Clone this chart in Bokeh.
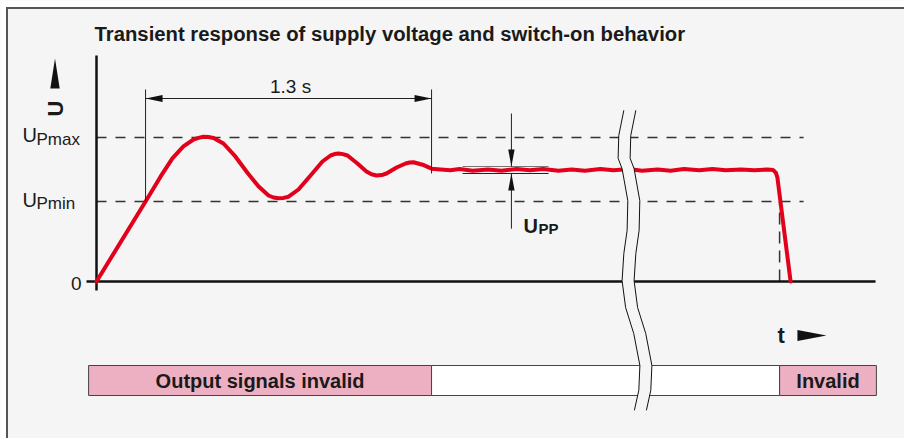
import math
from bokeh.plotting import figure
from bokeh.models import Range1d
from bokeh.core.properties import value
from bokeh.embed import file_html
from bokeh.resources import INLINE

# ---------------- data (time in s, voltage in arbitrary units) ----------------
UPMIN = 10.0
UPMAX = 18.0
T_VALID = 0.223          # supply crosses UPmin
SETTLE = 1.3             # settling time
T_OFF = 3.105            # supply falls below UPmin

curve_t = [0.000, 0.223, 0.291, 0.345, 0.395, 0.441, 0.464, 0.486, 0.509, 0.532,
           0.577, 0.632, 0.686, 0.736, 0.782, 0.805, 0.827, 0.850, 0.873, 0.918,
           0.973, 1.027, 1.064, 1.082, 1.100, 1.120, 1.141, 1.186, 1.227, 1.250, 1.273,
           1.296, 1.318, 1.364, 1.405, 1.423, 1.441, 1.482, 1.523, 1.564, 1.609,
           1.65, 1.71, 1.78, 1.84, 1.91, 1.97, 2.03, 2.10, 2.16, 2.22, 2.29, 2.35,
           2.42, 2.48, 2.55, 2.61, 2.67, 2.74, 2.80, 2.86, 2.93, 2.99, 3.05,
           3.075, 3.088, 3.095, 3.155]
curve_u = [0.0, 10.0, 13.1, 15.4, 16.9, 17.75, 17.95, 18.1, 18.05, 17.95,
           17.25, 15.6, 13.6, 11.9, 10.75, 10.5, 10.4, 10.45, 10.6, 11.5,
           13.25, 15.0, 15.75, 15.93, 16.0, 15.92, 15.75, 14.75, 13.75, 13.4, 13.25,
           13.3, 13.5, 14.25, 14.75, 14.88, 14.9, 14.6, 14.1, 14.0, 13.9,
           14.05, 13.85, 14.0, 13.85, 14.05, 13.9, 14.05, 13.85, 14.0, 13.85, 14.05, 13.9,
           14.05, 13.85, 14.0, 13.85, 14.05, 13.9, 14.05, 13.9, 14.0, 13.9, 14.0,
           13.95, 13.6, 13.0, 0.0]

upp_hi = 14.375
upp_lo = 13.5

bar_left = [-0.036, 1.523, 3.105]
bar_right = [1.523, 3.105, 3.545]
bar_labels = ["Output signals invalid", "", "Invalid"]
bar_colors = ["#edb0c2", "#ffffff", "#edb0c2"]

# break symbol (left edge), right edge is parallel
break_t = [2.397, 2.374, 2.371, 2.389, 2.415, 2.412, 2.397, 2.389, 2.405, 2.442, 2.470, 2.465, 2.445]
break_u = [21.4, 18.25, 15.4, 14.1, 10.1, 6.4, 3.5, 0.1, -3.25, -6.5, -10.5, -13.6, -16.1]

# ---------------- scales ----------------
PX_S = 220.0   # pixels per second
PX_U = 8.0     # pixels per unit
W, H = 904, 438
X0 = -96 / PX_S
X1 = X0 + W / PX_S
Y1 = 281 / PX_U
Y0 = Y1 - H / PX_U

BG = "#f5f5f5"
RED = "#e2001a"
INK = "#1a1a1a"
FONT = value("Liberation Sans")

p = figure(width=W, height=H, x_range=Range1d(X0, X1), y_range=Range1d(Y0, Y1),
           output_backend="svg", toolbar_location=None, min_border=0,
           background_fill_color=BG, border_fill_color=BG, outline_line_color=None)
p.xaxis.visible = False
p.yaxis.visible = False
p.xgrid.visible = False
p.ygrid.visible = False


def dx(px):
    return px / PX_S


def dy(px):
    return px / PX_U


def head(tx, ty, direction, length, half):
    if direction == "left":
        return [tx, tx + dx(length), tx + dx(length)], [ty, ty + dy(half), ty - dy(half)]
    if direction == "right":
        return [tx, tx - dx(length), tx - dx(length)], [ty, ty + dy(half), ty - dy(half)]
    if direction == "up":
        return [tx, tx - dx(half), tx + dx(half)], [ty, ty - dy(length), ty - dy(length)]
    return [tx, tx - dx(half), tx + dx(half)], [ty, ty + dy(length), ty + dy(length)]


def label(x, y, txt, size, bold=False, align="left", angle=0.0):
    p.text(x=[x], y=[y], text=[txt], angle=angle, text_font=FONT,
           text_font_style="bold" if bold else "normal", text_font_size=size,
           text_align=align, text_baseline="middle", text_color=INK)


# white surround and frame border (top + left)
p.quad(left=[X0, X0], right=[X1, X0 + dx(5.5)], top=[Y1, Y1], bottom=[Y1 - dy(6.5), Y0],
       fill_color="white", line_color=None)
p.line([X0 + dx(6), X1], [Y1 - dy(7.5), Y1 - dy(7.5)], line_color="#555555", line_width=2)
p.line([X0 + dx(6.5), X0 + dx(6.5)], [Y0, Y1 - dy(6.5)], line_color="#555555", line_width=2)

# dashed limit lines
p.segment(x0=[0, 0], y0=[UPMAX, UPMIN], x1=[3.214, 3.214], y1=[UPMAX, UPMIN],
          line_color="#333333", line_width=1.5, line_dash="10 9")
p.segment(x0=[T_OFF], y0=[0], x1=[T_OFF], y1=[UPMIN],
          line_color="#333333", line_width=1.5, line_dash="12 7")

# bottom bar
p.quad(left=bar_left, right=bar_right, top=[-10.5] * 3, bottom=[-14.25] * 3,
       fill_color=bar_colors, line_color="#444444", line_width=1)
p.text(x=[(l + r) / 2 for l, r in zip(bar_left, bar_right)], y=[-12.375] * 3, text=bar_labels,
       text_font=FONT, text_font_style="bold", text_font_size="20px",
       text_align="center", text_baseline="middle", text_color=INK)

# axes
p.segment(x0=[0], y0=[dy(-9)], x1=[0], y1=[28.25], line_color="#111111", line_width=2.5)
p.segment(x0=[dx(-10)], y0=[0], x1=[3.541], y1=[0], line_color="#111111", line_width=2.5)

# supply voltage
p.line(curve_t, curve_u, line_color=RED, line_width=4, line_join="round", line_cap="round")

# 1.3 s dimension
dim_y = 22.875
p.segment(x0=[T_VALID, T_VALID + SETTLE, T_VALID], y0=[UPMIN, upp_lo, dim_y],
          x1=[T_VALID, T_VALID + SETTLE, T_VALID + SETTLE], y1=[24.0, 24.0, dim_y],
          line_color="#222222", line_width=1)
h1 = head(T_VALID, dim_y, "left", 17, 3.5)
h2 = head(T_VALID + SETTLE, dim_y, "right", 17, 3.5)
p.patches([h1[0], h2[0]], [h1[1], h2[1]], fill_color="#111111", line_color=None)
label(T_VALID + SETTLE / 2 + dx(2), dim_y + dy(12.5), "1.3 s", "19px", align="center")

# Upp dimension
upp_x = 1.886
p.segment(x0=[1.664], y0=[upp_hi], x1=[2.055], y1=[upp_hi], line_color="#777777", line_width=1.2)
p.segment(x0=[1.664], y0=[upp_lo], x1=[2.055], y1=[upp_lo], line_color="#222222", line_width=1.2)
p.segment(x0=[upp_x, upp_x], y0=[21.0, 6.6], x1=[upp_x, upp_x], y1=[upp_hi, upp_lo],
          line_color="#222222", line_width=1)
h3 = head(upp_x, upp_hi, "down", 17, 3.2)
h4 = head(upp_x, upp_lo, "up", 17, 3.2)
p.patches([h3[0], h4[0]], [h3[1], h4[1]], fill_color="#111111", line_color=None)
label(1.941, 7.0, "U", "20px", bold=True)
label(2.009, 6.6, "PP", "15px", bold=True)

# break symbol
offs = dx(12)
p.patch(break_t + [t + offs for t in break_t[::-1]], break_u + break_u[::-1],
        fill_color=BG, line_color=None)
p.line(break_t, break_u, line_color="#111111", line_width=1)
p.line([t + offs for t in break_t], break_u, line_color="#111111", line_width=1)

# axis arrows and axis names
ha = head(-0.1886, 27.875, "up", 30, 4.7)
ta = head(3.318, -6.75, "right", 29, 5.5)
p.patches([ha[0], ta[0]], [ha[1], ta[1]], fill_color="#111111", line_color=None)
label(-0.1864, 21.625, "U", "22px", bold=True, align="center", angle=math.pi / 2)
label(3.095, -6.75, "t", "22px", bold=True)

# y tick labels
label(-0.3364, UPMAX + 0.3, "U", "20px")
label(-0.2727, UPMAX - 0.2, "Pmax", "17px")
label(-0.3364, UPMIN + 0.2, "U", "20px")
label(-0.2727, UPMIN - 0.3, "Pmin", "17px")
label(-0.068, -0.2, "0", "19px", align="right")

# title
label(-0.009, 31.0, "Transient response of supply voltage and switch-on behavior", "20.3px", bold=True)

open("out.html", "w").write(file_html(p, INLINE))
